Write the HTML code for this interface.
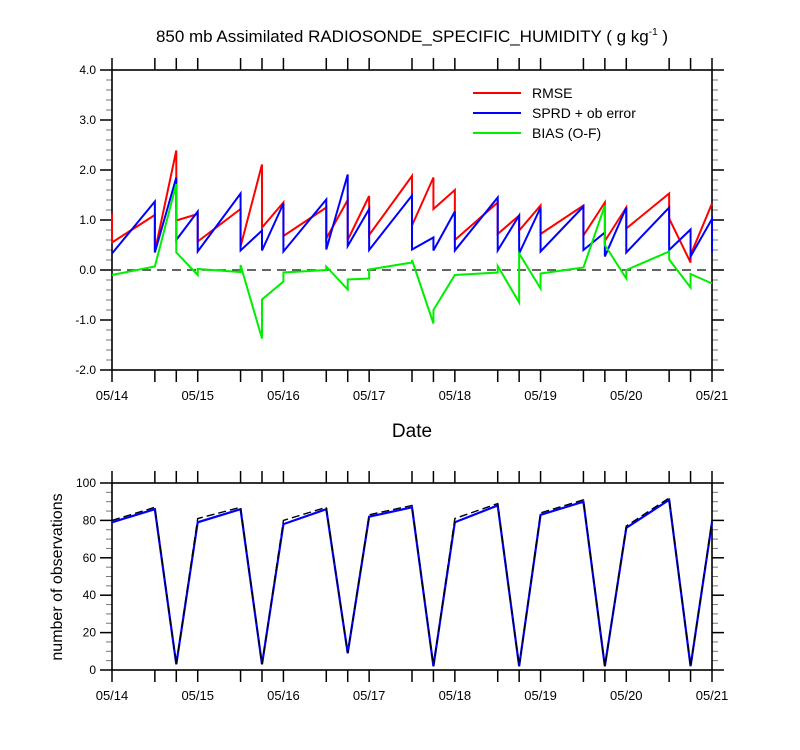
<!DOCTYPE html>
<html><head><meta charset="utf-8"><style>
body{margin:0;background:#fff;}
svg{display:block;font-family:"Liberation Sans",sans-serif;}
</style></head><body>
<svg id="chart" width="800" height="750"></svg>
<script>
// ---- data ----
const times = [0,0.5,0.75,1,1.5,1.75,2,2.5,2.75,3,3.5,3.75,4,4.5,4.75,5,5.5,5.75,6,6.5,6.75,7];
const dateLabels = ["05/14","05/15","05/16","05/17","05/18","05/19","05/20","05/21"];
const yTicksTop = [-2,-1,0,1,2,3,4];
const yTicksBottom = [0,20,40,60,80,100];
const rmseIn  = [1.13,1.1,2.39,1.12,1.22,2.11,1.35,1.25,1.4,1.48,1.88,1.85,1.6,1.35,1.09,1.29,1.29,1.35,1.25,1.53,0.15,1.33];
const rmseOut = [0.55,0.37,0.99,0.57,0.47,0.85,0.68,0.63,0.6,0.7,0.89,1.22,0.6,0.72,0.79,0.72,0.69,0.58,0.83,1.03,0.3,1.33];
const sprdIn  = [0.33,1.37,1.85,1.17,1.53,0.79,1.33,1.41,1.91,1.22,1.49,0.65,1.17,1.45,1.09,1.25,1.27,0.75,1.25,1.25,0.81,1.02];
const sprdOut = [0.33,0.35,0.6,0.37,0.39,0.39,0.37,0.41,0.48,0.4,0.41,0.39,0.39,0.39,0.33,0.37,0.4,0.27,0.35,0.4,0.27,0.35];
const biasIn  = [-0.1,0.07,1.72,-0.1,-0.04,-1.37,-0.23,0.0,-0.39,-0.17,0.15,-1.07,-0.1,-0.05,-0.65,-0.37,0.05,1.29,-0.17,0.37,-0.35,-0.27];
const biasOut = [-0.1,0.07,0.35,0.02,0.1,-0.59,-0.05,0.07,-0.19,0.01,0.2,-0.8,-0.1,0.08,0.33,-0.07,0.05,0.5,0.0,0.21,-0.08,-0.27];
const obsUsed = [79,86,3,79,86,3,78,86,9,82,87,2,79,88,2,83,90,2,76,91,2,79];
const obsPoss = [80,87,3,81,87,3,80,87,9,83,88,2,81,89,2,84,91,2,77,92,2,80];

const NS="http://www.w3.org/2000/svg";
const svg=document.getElementById('chart');
function mk(tag,attrs,parent){const e=document.createElementNS(NS,tag);for(const k in attrs)e.setAttribute(k,attrs[k]);(parent||svg).appendChild(e);return e;}
const X0=112,X1=712;
const xs=t=>X0+(X1-X0)*t/7;
const yTop=v=>370-(v+2)*50;
const yBot=v=>670-v*1.87;

// title
let t=mk('text',{x:412,y:42,'text-anchor':'middle','font-size':17});


t.innerHTML='850 mb Assimilated RADIOSONDE_SPECIFIC_HUMIDITY ( g kg<tspan dy="-7" font-size="10">-1</tspan><tspan dy="7"> )</tspan>';

function axes(top,bot,yfn,ticks,minorStep,lo,hi,fmt,prefix){
  const g=mk('g',{});
  
  
  for(let v=lo;v<=hi+1e-9;v+=minorStep){const y=yfn(v);
    mk('line',{x1:X0-6,x2:X0,y1:y,y2:y,stroke:'#777','stroke-width':1},g);
    mk('line',{x1:X1,x2:X1+6,y1:y,y2:y,stroke:'#777','stroke-width':1},g);}
  mk('rect',{x:X0,y:top,width:X1-X0,height:bot-top,fill:'none',stroke:'#000','stroke-width':1.6},g);
  for(let d=0;d<=7;d++){
    [0,0.5,0.75].forEach(f=>{const tt=d+f;if(tt>7)return;const x=xs(tt);
      mk('line',{x1:x,x2:x,y1:top,y2:top-12,stroke:'#000','stroke-width':1.5},g);
      mk('line',{x1:x,x2:x,y1:bot,y2:bot+12,stroke:'#000','stroke-width':1.5},g);});
  }
  dateLabels.forEach((l,i)=>{const e=mk('text',{x:xs(i),y:bot+30,'text-anchor':'middle','font-size':13},g);
    
    
    e.textContent=l;});
  ticks.forEach(v=>{const y=yfn(v);
    mk('line',{x1:X0-12,x2:X0,y1:y,y2:y,stroke:'#000','stroke-width':1.5},g);
    mk('line',{x1:X1,x2:X1+12,y1:y,y2:y,stroke:'#000','stroke-width':1.5},g);
    const e=mk('text',{x:X0-16,y:y+4,'text-anchor':'end','font-size':12},g);
    
    
    e.textContent=fmt(v);});
}
axes(70,370,yTop,yTicksTop,0.2,-2,4,v=>v.toFixed(1),'top');
axes(483,670,yBot,yTicksBottom,5,0,100,v=>String(v),'bottom');

let z=mk('line',{x1:X0,x2:X1,y1:yTop(0),y2:yTop(0),stroke:'#333','stroke-width':1.5,'stroke-dasharray':'9,6'});



function stepLine(inA,outA,color,name){
  let d='';times.forEach((tt,i)=>{d+=(i?'L':'M')+xs(tt)+','+yTop(inA[i])+'L'+xs(tt)+','+yTop(outA[i]);});
  const p=mk('path',{d:d,fill:'none',stroke:color,'stroke-width':2,'stroke-linejoin':'miter'});
  
  
}
stepLine(rmseIn,rmseOut,'#ff0000','rmse-line');
stepLine(sprdIn,sprdOut,'#0000ff','sprd-line');
stepLine(biasIn,biasOut,'#00ee00','bias-line');

[['RMSE','#ff0000',97],['SPRD + ob error','#0000ff',117],['BIAS (O-F)','#00ee00',137]].forEach(([l,c,y])=>{
  const g=mk('g',{});
  
  
  mk('line',{x1:473,x2:521,y1:y-4,y2:y-4,stroke:c,'stroke-width':2},g);
  const e=mk('text',{x:532,y:y+1,'font-size':14},g);e.textContent=l;});

let dt=mk('text',{x:412,y:437,'text-anchor':'middle','font-size':19});


dt.textContent='Date';

function line(vals,color,dash,w,name){
  let d='';times.forEach((tt,i)=>{d+=(i?'L':'M')+xs(tt)+','+yBot(vals[i]);});
  const p=mk('path',{d:d,fill:'none',stroke:color,'stroke-width':w});
  if(dash)p.setAttribute('stroke-dasharray',dash);
  
  
}
line(obsUsed,'#0000ff',null,2.2,'obs-used-line');
line(obsPoss,'#000',"8,4",1.4,'obs-possible-line');

let yt=mk('text',{x:62,y:577,'text-anchor':'middle','font-size':16,transform:'rotate(-90 62 577)'});


yt.textContent='number of observations';
</script>
</body></html>
